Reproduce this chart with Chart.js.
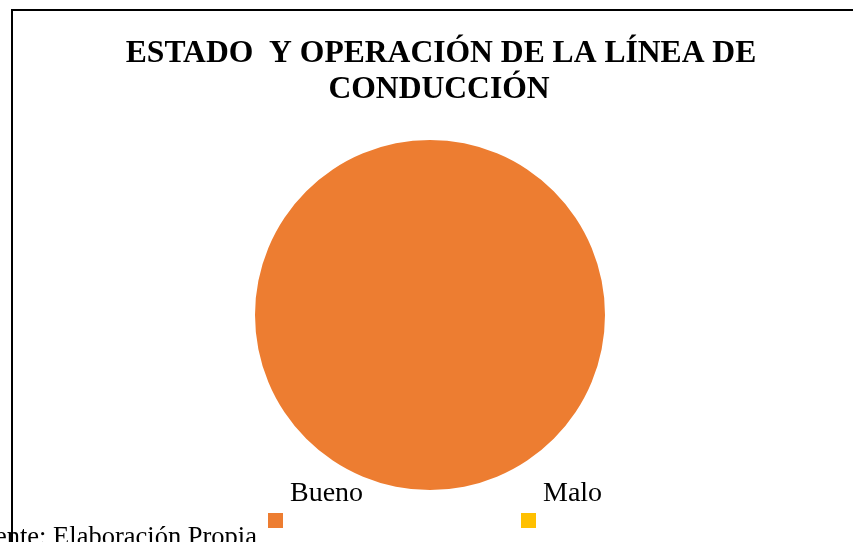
<!DOCTYPE html>
<html>
<head>
<meta charset="utf-8">
<script src="https://cdn.jsdelivr.net/npm/chart.js@4"></script>
<style>
    html, body { margin: 0; padding: 0; background: #ffffff; overflow: hidden; }
    #wrap { position: relative; width: 853px; height: 542px; }
</style>
</head>
<body>
<div id="wrap"><canvas id="pieChart" width="853" height="542"></canvas></div>
<script>
// Estado de la línea de conducción
const titleLines = ['ESTADO  Y OPERACIÓN DE LA LÍNEA DE', 'CONDUCCIÓN'];
const categories = ['Bueno', 'Malo'];
const values = [100, 0];
const colors = ['#ED7D31', '#FFC000'];
const sourceNote = 'Fuente: Elaboración Propia';

const SERIF = '"Liberation Serif", "Times New Roman", serif';

// marco, título, leyenda y fuente dibujados a mano
const frameAndText = {
    id: 'frameAndText',
    afterDraw(chart) {
        const ctx = chart.ctx;
        ctx.save();

        // marco del gráfico (solo se ven el borde superior e izquierdo)
        ctx.strokeStyle = '#000000';
        ctx.lineWidth = 2;
        ctx.beginPath();
        ctx.moveTo(12, 560);
        ctx.lineTo(12, 10);
        ctx.lineTo(860, 10);
        ctx.stroke();

        // título
        ctx.fillStyle = '#000000';
        ctx.font = 'bold 31.6px ' + SERIF;
        ctx.textAlign = 'center';
        ctx.textBaseline = 'alphabetic';
        ctx.fillText(titleLines[0], 441, 62);
        ctx.fillText(titleLines[1], 439, 98);

        // leyenda: texto arriba, cuadro de color abajo
        const ds = chart.data.datasets[0];
        ctx.font = '28px ' + SERIF;
        ctx.textAlign = 'left';
        chart.data.labels.forEach((label, i) => {
            const x = 268 + i * 253;
            ctx.fillStyle = '#000000';
            ctx.fillText(label, x + 22, 501);
            ctx.fillStyle = ds.backgroundColor[i];
            ctx.fillRect(x, 513, 15, 15);
        });

        // nota de fuente, recortada por el borde
        ctx.fillStyle = '#000000';
        ctx.font = '26.5px ' + SERIF;
        ctx.fillText(sourceNote, -33, 545);

        ctx.restore();
    }
};

const ctx = document.getElementById('pieChart').getContext('2d');
new Chart(ctx, {
    type: 'pie',
    data: {
        labels: categories,
        datasets: [{
            data: values,
            backgroundColor: colors,
            borderWidth: 0
        }]
    },
    options: {
        responsive: false,
        animation: false,
        layout: { padding: { left: 255, right: 248, top: 140, bottom: 52 } },
        plugins: {
            legend: { display: false },
            title: { display: false },
            tooltip: { enabled: false }
        }
    },
    plugins: [frameAndText]
});
</script>
</body>
</html>
